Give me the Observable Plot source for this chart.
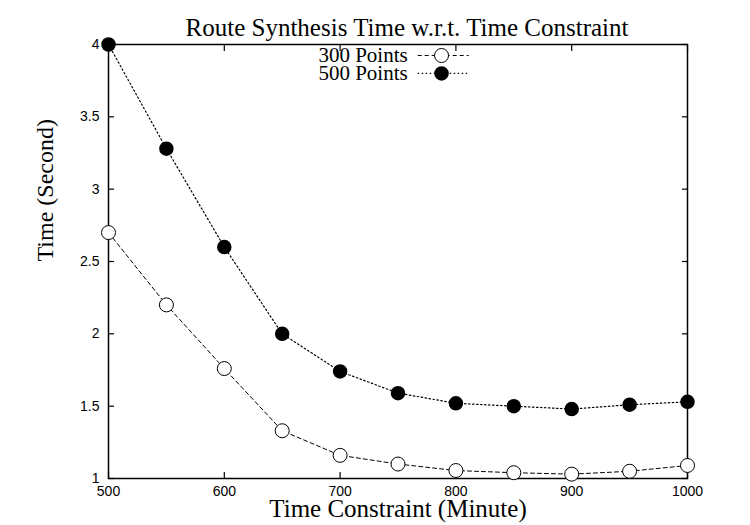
<!DOCTYPE html>
<html>
<head>
<meta charset="utf-8">
<script src="https://cdn.jsdelivr.net/npm/d3@7"></script>
<script src="https://cdn.jsdelivr.net/npm/@observablehq/plot@0.6"></script>
<style>
  html, body { margin: 0; padding: 0; background: #fff; }
  #chart svg { display: block; }
</style>
</head>
<body>
<div id="chart"></div>
<script>
// Time constraint (minutes) on the x axis
const constraints = [500, 550, 600, 650, 700, 750, 800, 850, 900, 950, 1000];
// Route synthesis time (seconds) for each point count
const time300 = [2.70, 2.20, 1.76, 1.33, 1.16, 1.10, 1.055, 1.04, 1.03, 1.05, 1.09];
const time500 = [4.00, 3.28, 2.60, 2.00, 1.74, 1.59, 1.52, 1.50, 1.48, 1.51, 1.53];
const seriesNames = ["300 Points", "500 Points"];
const xTicks = [500, 600, 700, 800, 900, 1000];
const yTicks = [1, 1.5, 2, 2.5, 3, 3.5, 4];

const rows300 = constraints.map((c, i) => ({x: c, y: time300[i]}));
const rows500 = constraints.map((c, i) => ({x: c, y: time500[i]}));

// Legend entries, placed in data units near the top centre of the frame
const legend300 = [{name: seriesNames[0], y: 3.924, x1: 767, x2: 811, xm: 787.6}];
const legend500 = [{name: seriesNames[1], y: 3.800, x1: 767, x2: 811, xm: 787.6}];

const serif = "'Liberation Serif', 'Times New Roman', serif";
const sans = "'Liberation Sans', Arial, sans-serif";
const fmt = d => String(d);

const chart = Plot.plot({
  width: 750,
  height: 525,
  marginLeft: 108,
  marginRight: 63,
  marginTop: 44,
  marginBottom: 47,
  style: {background: "white", color: "black", fontFamily: sans, fontSize: "14px"},
  x: {domain: [500, 1000], label: null},
  y: {domain: [1, 4], label: null},
  marks: [
    // tick labels
    Plot.axisX({anchor: "bottom", ticks: xTicks, tickFormat: fmt, tickSize: 0, tickPadding: 8, fontSize: 14, fontFamily: sans}),
    Plot.axisY({anchor: "left", ticks: yTicks, tickFormat: fmt, tickSize: 0, tickPadding: 9, fontSize: 14, fontFamily: sans}),
    // inward ticks on all four sides
    Plot.axisX({anchor: "bottom", ticks: xTicks, tickSize: -6, tickFormat: () => "", strokeWidth: 1.2}),
    Plot.axisX({anchor: "top", ticks: xTicks, tickSize: -6, tickFormat: () => "", strokeWidth: 1.2}),
    Plot.axisY({anchor: "left", ticks: yTicks, tickSize: -6, tickFormat: () => "", strokeWidth: 1.2}),
    Plot.axisY({anchor: "right", ticks: yTicks, tickSize: -6, tickFormat: () => "", strokeWidth: 1.2}),
    Plot.frame({stroke: "black", strokeWidth: 1.5}),
    // series lines
    Plot.line(rows300, {x: "x", y: "y", stroke: "black", strokeWidth: 1, strokeDasharray: "4,3"}),
    Plot.line(rows500, {x: "x", y: "y", stroke: "black", strokeWidth: 1.2, strokeDasharray: "1.5,2.5"}),
    // series markers
    Plot.dot(rows300, {x: "x", y: "y", r: 7, stroke: "black", strokeWidth: 1, fill: "white"}),
    Plot.dot(rows500, {x: "x", y: "y", r: 6.5, fill: "black", stroke: "black"}),
    // legend
    Plot.link(legend300, {x1: "x1", x2: "x2", y1: "y", y2: "y", stroke: "black", strokeWidth: 1, strokeDasharray: "4,3"}),
    Plot.link(legend500, {x1: "x1", x2: "x2", y1: "y", y2: "y", stroke: "black", strokeWidth: 1.2, strokeDasharray: "1.5,2.5"}),
    Plot.dot(legend300, {x: "xm", y: "y", r: 7, fill: "white", stroke: "black", strokeWidth: 1}),
    Plot.dot(legend500, {x: "xm", y: "y", r: 6.5, fill: "black", stroke: "black"}),
    Plot.text(legend300, {x: "x1", y: "y", text: "name", textAnchor: "end", dx: -10, fontSize: 21, fontFamily: serif}),
    Plot.text(legend500, {x: "x1", y: "y", text: "name", textAnchor: "end", dx: -10, fontSize: 21, fontFamily: serif}),
    // title and axis labels
    Plot.text(["Route Synthesis Time w.r.t. Time Constraint"], {frameAnchor: "top", dx: 9, dy: -26, fontSize: 25, fontFamily: serif}),
    Plot.text(["Time Constraint (Minute)"], {frameAnchor: "bottom", dy: 38, fontSize: 25, fontFamily: serif}),
    Plot.text(["Time (Second)"], {frameAnchor: "left", dx: -63, rotate: -90, fontSize: 24, fontFamily: serif})
  ]
});

document.getElementById("chart").appendChild(chart);
</script>
</body>
</html>
